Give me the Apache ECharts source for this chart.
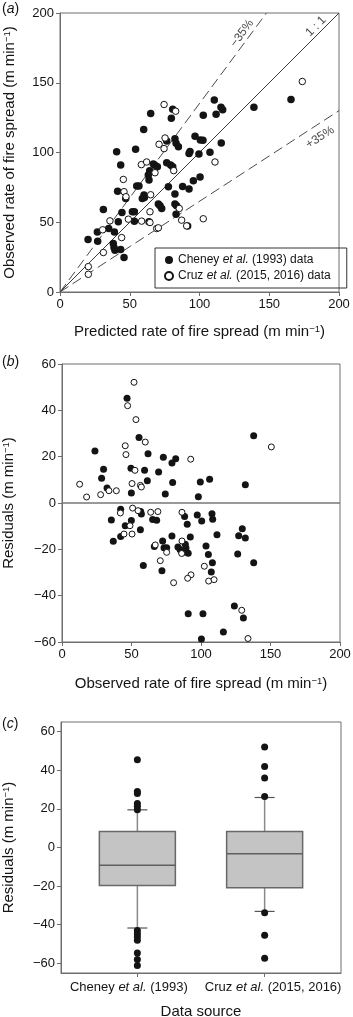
<!DOCTYPE html>
<html>
<head>
<meta charset="utf-8">
<script src="https://cdn.jsdelivr.net/npm/echarts@6.0.0/dist/echarts.min.js"></script>
<style>
  html, body { margin: 0; padding: 0; background: #fff; }
  #chart { width: 353px; height: 1017px; }
</style>
</head>
<body>
<div id="chart"></div>
<script>
// (a) predicted vs observed rate of spread, [predicted, observed]
const cheneyA = [
  [165.6, 138], [139, 132.5], [110.6, 137.7], [115.4, 132.5], [116.6, 130.6], [111.9, 127.4],
  [102.7, 126.7], [115.6, 106.8], [107.5, 100.1], [99.6, 98.9], [92.5, 99.2], [93.2, 100.8],
  [96.8, 111.6], [100.6, 109], [102.5, 108.7], [80.8, 131], [79.8, 124.6], [65, 127.9],
  [60, 116.4], [54.2, 102.3], [40.6, 100.6], [43.5, 91], [76.5, 108.3], [82.4, 109.9],
  [83.2, 106.6], [84.9, 104.2], [66.9, 91.7], [68.1, 90.8], [69.8, 89.8], [76.5, 92.7],
  [79.3, 91], [80.8, 89.8], [64.3, 86.9], [63.3, 83.8], [63.8, 80.2], [55, 75.9],
  [56.6, 75.9], [41.3, 72.3], [47.1, 67.1], [60.2, 69.5], [60.5, 67.8], [59, 67],
  [77.7, 75.4], [82.4, 70.2], [87.9, 75.7], [95.6, 79.8], [100.4, 82.4], [92.5, 73.8],
  [82.4, 63], [83.6, 61.8], [70.5, 63], [71.7, 61.8], [72.9, 59.9], [51.9, 57.5],
  [53.3, 57.5], [44.4, 57], [31.1, 59.2], [41.8, 50.3], [53.3, 50.8], [63.8, 50.3],
  [83.2, 55.8], [91.5, 47.4], [20.1, 37.6], [27, 36.4], [26.8, 43.1], [34.9, 45.5],
  [39, 43.1], [38.2, 34.7], [38.7, 31.9], [39.4, 29.9], [43.5, 30.4], [45.9, 24.7]
];
const cruzA = [
  [173.7, 150.9], [111.1, 93.2], [74.6, 134.4], [82.9, 129.6], [75.3, 110.4], [71, 105.9],
  [74.6, 102.8], [58.3, 91.3], [62.1, 93.2], [81.5, 87], [45.4, 80.7], [68.1, 85.5],
  [45.9, 71.9], [47.3, 68.3], [65, 69.7], [85.5, 59.9], [35.8, 51], [49, 52.2],
  [58.5, 50.8], [64.5, 57.5], [64.5, 49.8], [69.3, 45.5], [70.5, 46], [87.2, 51.5],
  [90.8, 47.4], [102.7, 52.5], [44.2, 39], [30.6, 44.6], [31.1, 28.3], [20.3, 18.2],
  [20.3, 12.7]
];
// reference lines: 1:1 and +/-35 %
const lineOneToOne = [[0, 0], [200, 200]];
const lineMinus35 = [[0, 0], [148, 200]];
const linePlus35 = [[0, 0], [200, 130]];
const lineTags = [
  { text: '−35%', at: [130.5, 185.4], angle: 53.5 },
  { text: '1 : 1', at: [183.5, 190.4], angle: 45 },
  { text: '+35%', at: [186.4, 110.9], angle: 33 }
];

// (b) residuals vs observed, [observed, residual]
const cheneyB = [
  [46.8, 45.2], [55.4, 28.3], [137.9, 29], [23.7, 22.4], [61.9, 21.3], [72.9, 19.7],
  [81.8, 19.1], [79.1, 17.3], [29.9, 14.6], [49.6, 15], [59.4, 14.1], [69.5, 13.4],
  [28.5, 10.7], [61.4, 9.6], [79.6, 8.8], [99.5, 9.1], [106.2, 10.2], [131.9, 7.9],
  [32.4, 6.5], [49.9, 4.3], [74.3, 3.9], [98.1, 2.7], [35.5, -7.3], [42.2, -2.7],
  [45.5, -9.8], [49.9, -7.6], [56.6, -3.7], [57.1, -4.7], [36.9, -16.5], [42.2, -14.5],
  [56.4, -11.5], [65.2, -7.1], [68.1, -7.4], [58.5, -27], [66.4, -18.8], [71.9, -29.2],
  [72.4, -16.4], [73.4, -19.3], [75.3, -19.3], [79.1, -14.2], [83.4, -19], [84.9, -20.1],
  [86.1, -21], [87, -21.4], [88.2, -5.8], [90.1, -9.2], [88.7, -17.8], [89.2, -19.4],
  [90.8, -21.7], [92.3, -14.7], [90.8, -47.8], [97.3, -5.2], [100.5, -7.8], [107.9, -4.6],
  [108.4, -7], [103.6, -18.6], [105.3, -22.2], [108.2, -25.8], [107.4, -29.8], [111.5, -13.7],
  [101.4, -47.8], [129.7, -11.1], [127.1, -14.1], [131.9, -15.1], [126.4, -22], [137.9, -25.8],
  [124, -44.5], [130.5, -49.6], [116.1, -55.7], [100.3, -58.7]
];
const cruzB = [
  [51.8, 52.1], [47.2, 42], [53.2, 36], [150.6, 24.2], [59.9, 26.3], [45.5, 24.7],
  [46, 20.9], [92.6, 18.9], [52.5, 14.1], [12.7, 8.1], [50.4, 8.4], [56.4, 7.6],
  [57.1, 6.9], [33.8, 5.3], [39.1, 5.3], [27.8, 3.6], [17.7, 2.6], [42, -4.3],
  [48.9, -9.8], [50.8, -2.2], [54.7, -3.3], [44.6, -13.4], [50.4, -13.4], [63.8, -4],
  [69, -3.7], [67.1, -18.1], [70.7, -24.9], [75.3, -21.3], [80.3, -34.4], [86.3, -4],
  [86.3, -16.4], [86.1, -21.8], [92.8, -31], [90.4, -32.5], [102.4, -27.3], [105.5, -33.7],
  [109.4, -33.1], [129.3, -46.3], [133.8, -58.5]
];

// (c) box plots of residuals by data source
const sources = ['Cheney et al. (1993)', 'Cruz et al. (2015, 2016)'];
const sourcePos = [1, 2];
// [lower whisker, Q1, median, Q3, upper whisker]
const boxStats = [
  [-41.7, -19.7, -9.2, 8.3, 19.5],
  [-33.1, -20.9, -3.3, 8.3, 25.9]
];
const outliers = [
  [45.4, 29, 28, 22.8, 21.3, 19.5, -43, -44.7, -46.2, -48.1, -54.7, -58, -61.1],
  [52.1, 42, 36, 26.4, -33.8, -45.4, -57.4]
];
const residTicks = [-60, -40, -20, 0, 20, 40, 60];

const FONT = 'Liberation Sans';
const INK = '#141414';
const FRAME = '#6e6e6e';

const nameRich = {
  n: { fontSize: 15, fontFamily: FONT, color: INK },
  s: { fontSize: 9.5, fontFamily: FONT, color: INK, verticalAlign: 'top', lineHeight: 9 }
};
const unitName = (label) => '{n|' + label + ' (m min}{s|−1}{n|)}';
const minus = (v) => String(v).replace('-', '−');

function axisBase(gridIndex, extra) {
  return Object.assign({
    type: 'value',
    gridIndex: gridIndex,
    axisLine: { show: true, onZero: false, lineStyle: { color: FRAME, width: 1 } },
    axisTick: { show: true, inside: false, length: 4, lineStyle: { color: FRAME } },
    axisLabel: { color: INK, fontSize: 13, fontFamily: FONT, margin: 6, formatter: minus },
    splitLine: { show: false },
    nameLocation: 'middle',
    nameTextStyle: { rich: nameRich }
  }, extra);
}

// the two source labels sit on separate axes so neither hides the other
const sourceRich = {
  n: { fontSize: 13, fontFamily: FONT, color: INK },
  i: { fontSize: 13, fontFamily: FONT, color: INK, fontStyle: 'italic' },
  p: { width: 17 }
};
const sourceLabel = (i) => {
  const parts = sources[i].split(' et al. ');
  const txt = '{n|' + parts[0] + ' }{i|et al.}{n| ' + parts[1] + '}';
  return i === 0 ? txt + '{p|}' : '{p|}' + txt;
};
const sourceAxis = (i, extra) => axisBase(2, Object.assign({
  min: 0.4, max: 2.6, position: 'bottom',
  axisTick: { show: true, length: 4, customValues: sourcePos, lineStyle: { color: FRAME } },
  axisLabel: {
    customValues: [sourcePos[i]], margin: 8,
    formatter: () => sourceLabel(i),
    rich: sourceRich
  }
}, extra));

const refLine = (data, dashed) => ({
  type: 'line', xAxisIndex: 0, yAxisIndex: 0, data: data,
  symbol: 'none', silent: true, z: 1,
  lineStyle: dashed
    ? { color: '#4a4a4a', width: 1, type: [10, 5] }
    : { color: '#3a3a3a', width: 1 }
});

const filled = { color: INK, opacity: 1 };
const open = { color: '#fff', borderColor: INK, borderWidth: 1, opacity: 1 };

const chart = echarts.init(document.getElementById('chart'), null, { renderer: 'canvas' });

const gridBox = (left, top, width, height) => ({
  left, top, width, height,
  outerBoundsMode: 'none', containLabel: false,
  show: true, borderColor: FRAME, borderWidth: 1
});

const option = {
  backgroundColor: '#fff',
  animation: false,
  textStyle: { fontFamily: FONT },
  title: ['a', 'b', 'c'].map((t, i) => ({
    text: '{p|(}{i|' + t + '}{p|)}',
    left: 2,
    top: [2, 355, 717][i],
    padding: 0,
    textStyle: {
      fontWeight: 'normal',
      rich: {
        p: { fontSize: 14, fontFamily: FONT, color: INK, fontWeight: 'normal' },
        i: { fontSize: 14, fontFamily: FONT, color: INK, fontWeight: 'normal', fontStyle: 'italic' }
      }
    }
  })),
  legend: {
    data: ['Cheney et al. (1993) data', 'Cruz et al. (2015, 2016) data'],
    orient: 'vertical',
    left: 155,
    top: 248,
    itemWidth: 8,
    itemHeight: 8,
    itemGap: 4,
    padding: [6, 16, 6, 9],
    borderColor: '#333',
    borderWidth: 1,
    selectedMode: false,
    formatter: (name) => name.startsWith('Cheney')
      ? '{n|Cheney }{i|et al.}{n| (1993) data}'
      : '{n|Cruz }{i|et al.}{n| (2015, 2016) data}',
    textStyle: {
      rich: {
        n: { fontSize: 12, fontFamily: FONT, color: INK },
        i: { fontSize: 12, fontFamily: FONT, color: INK, fontStyle: 'italic' }
      }
    }
  },
  grid: [
    gridBox(60, 13, 279, 279),
    gridBox(62, 364, 278, 278),
    gridBox(61, 722, 280, 251)
  ],
  xAxis: [
    axisBase(0, { min: 0, max: 200, interval: 50, name: unitName('Predicted rate of fire spread'), nameGap: 32 }),
    axisBase(1, { min: 0, max: 200, interval: 50, name: unitName('Observed rate of fire spread'), nameGap: 34 }),
    sourceAxis(0, {
      name: 'Data source', nameGap: 31,
      nameTextStyle: { fontSize: 15, fontFamily: FONT, color: INK }
    }),
    sourceAxis(1, { axisLine: { show: false }, axisTick: { show: false } })
  ],
  yAxis: [
    axisBase(0, { min: 0, max: 200, interval: 50, name: unitName('Observed rate of fire spread'), nameGap: 43 }),
    axisBase(1, { min: -60, max: 60, interval: 20, name: unitName('Residuals'), nameGap: 46 }),
    axisBase(2, {
      min: -65, max: 65, name: unitName('Residuals'), nameGap: 45,
      axisTick: { show: true, length: 4, customValues: residTicks, lineStyle: { color: FRAME } },
      axisLabel: { customValues: residTicks, color: INK, fontSize: 13, fontFamily: FONT, margin: 6, formatter: minus }
    })
  ],
  series: [
    refLine(lineOneToOne, false),
    refLine(lineMinus35, true),
    refLine(linePlus35, true),
    {
      type: 'scatter', xAxisIndex: 0, yAxisIndex: 0, silent: true, z: 2,
      symbolSize: 0,
      data: lineTags.map(t => ({
        value: t.at,
        label: { formatter: t.text, rotate: t.angle }
      })),
      label: { show: true, position: 'inside', fontSize: 12, fontFamily: FONT, color: INK }
    },
    {
      name: 'Cheney et al. (1993) data', type: 'scatter', xAxisIndex: 0, yAxisIndex: 0,
      data: cheneyA, symbolSize: 7.5, itemStyle: filled, z: 3
    },
    {
      name: 'Cruz et al. (2015, 2016) data', type: 'scatter', xAxisIndex: 0, yAxisIndex: 0,
      data: cruzA, symbolSize: 6.5, itemStyle: open, z: 3
    },
    {
      name: 'Cheney residuals', type: 'scatter', xAxisIndex: 1, yAxisIndex: 1,
      data: cheneyB, symbolSize: 7, itemStyle: filled, z: 3,
      markLine: {
        silent: true, symbol: 'none', label: { show: false },
        lineStyle: { color: '#777', width: 1.5, type: 'solid' },
        data: [{ yAxis: 0 }]
      }
    },
    {
      name: 'Cruz residuals', type: 'scatter', xAxisIndex: 1, yAxisIndex: 1,
      data: cruzB, symbolSize: 6, itemStyle: open, z: 3
    },
    {
      type: 'custom', xAxisIndex: 2, yAxisIndex: 2, silent: true, z: 2,
      data: boxStats.map((s, i) => [sourcePos[i]].concat(s)),
      encode: { x: 0, y: [1, 2, 3, 4, 5] },
      renderItem: (params, api) => {
        const x = api.value(0);
        const p = [1, 2, 3, 4, 5].map(d => api.coord([x, api.value(d)]));
        const cx = p[0][0];
        const half = 38, cap = 10;
        const whisker = { stroke: '#8a8a8a', lineWidth: 1.5 };
        const seg = (x1, y1, x2, y2, style) => ({ type: 'line', shape: { x1, y1, x2, y2 }, style });
        return {
          type: 'group',
          children: [
            seg(cx, p[0][1], cx, p[1][1], whisker),
            seg(cx, p[3][1], cx, p[4][1], whisker),
            seg(cx - cap, p[0][1], cx + cap, p[0][1], { stroke: '#555', lineWidth: 1.2 }),
            seg(cx - cap, p[4][1], cx + cap, p[4][1], { stroke: '#555', lineWidth: 1.2 }),
            {
              type: 'rect',
              shape: { x: cx - half, y: p[3][1], width: half * 2, height: p[1][1] - p[3][1] },
              style: { fill: '#c4c4c4', stroke: '#686868', lineWidth: 1.5 }
            },
            seg(cx - half, p[2][1], cx + half, p[2][1], { stroke: '#5e5e5e', lineWidth: 1.5 })
          ]
        };
      }
    },
    {
      name: 'Outliers', type: 'scatter', xAxisIndex: 2, yAxisIndex: 2, silent: true, z: 4,
      symbolSize: 7, itemStyle: filled,
      data: outliers.flatMap((vals, i) => vals.map(v => [sourcePos[i], v]))
    }
  ]
};

chart.setOption(option);
window.addEventListener('resize', () => chart.resize());
</script>
</body>
</html>
